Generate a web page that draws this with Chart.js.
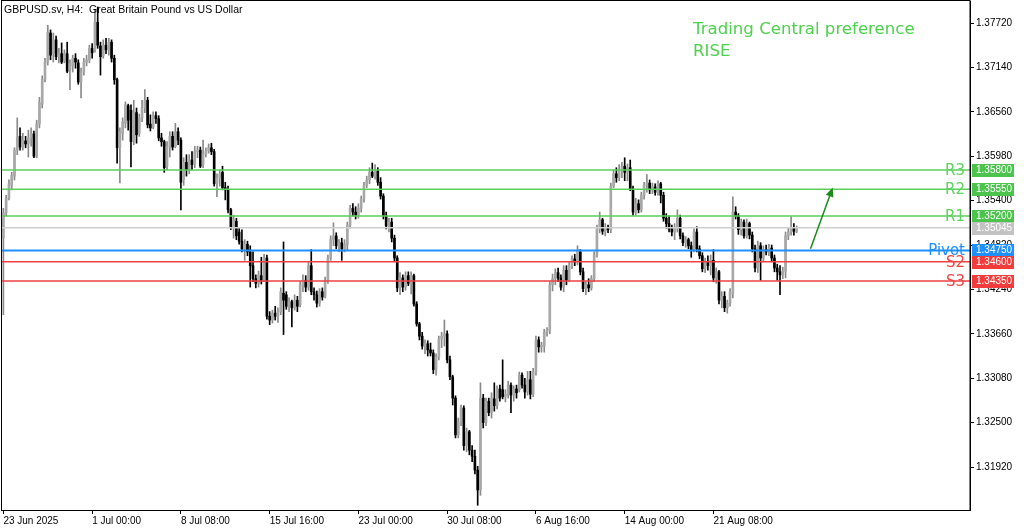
<!DOCTYPE html>
<html><head><meta charset="utf-8">
<script src="https://cdn.jsdelivr.net/npm/chart.js@4/dist/chart.umd.min.js"></script>
<style>html,body{margin:0;padding:0;background:#fff}#wrap{position:relative;width:1024px;height:531px}</style>
</head><body><div id="wrap"><canvas id="c"></canvas></div>
<script>
// GBPUSD H4 candles
const open = [
1.3491,1.3524,1.3543,1.3560,1.3572,1.3606,1.3624,1.3610,1.3618,1.3614,
1.3622,1.3627,1.3598,1.3640,1.3666,1.3698,1.3721,1.3759,1.3732,1.3750,
1.3728,1.3732,1.3722,1.3732,1.3711,1.3716,1.3726,1.3720,1.3695,1.3708,
1.3721,1.3724,1.3739,1.3737,1.3773,1.3742,1.3729,1.3743,1.3737,1.3747,
1.3726,1.3698,1.3609,1.3628,1.3641,1.3664,1.3658,1.3618,1.3655,1.3628,
1.3648,1.3661,1.3671,1.3640,1.3636,1.3651,1.3647,1.3622,1.3617,1.3585,
1.3610,1.3624,1.3611,1.3630,1.3619,1.3567,1.3590,1.3580,1.3593,1.3588,
1.3604,1.3606,1.3587,1.3601,1.3605,1.3609,1.3604,1.3562,1.3570,1.3577,
1.3557,1.3554,1.3528,1.3506,1.3513,1.3499,1.3487,1.3477,1.3483,1.3473,
1.3455,1.3438,1.3432,1.3442,1.3436,1.3465,1.3389,1.3384,1.3393,1.3389,
1.3395,1.3419,1.3417,1.3402,1.3408,1.3400,1.3410,1.3404,1.3429,1.3436,
1.3427,1.3455,1.3421,1.3417,1.3406,1.3421,1.3415,1.3436,1.3465,1.3489,
1.3494,1.3481,1.3485,1.3477,1.3482,1.3508,1.3530,1.3525,1.3521,1.3530,
1.3542,1.3560,1.3567,1.3577,1.3572,1.3579,1.3564,1.3546,1.3520,1.3507,
1.3512,1.3491,1.3465,1.3426,1.3439,1.3427,1.3442,1.3432,1.3442,1.3405,
1.3379,1.3363,1.3350,1.3353,1.3345,1.3341,1.3319,1.3336,1.3359,1.3363,
1.3366,1.3332,1.3310,1.3282,1.3234,1.3251,1.3269,1.3220,1.3238,1.3214,
1.3206,1.3188,1.3162,1.3282,1.3250,1.3278,1.3263,1.3281,1.3272,1.3294,
1.3293,1.3284,1.3286,1.3299,1.3286,1.3294,1.3293,1.3312,1.3299,1.3290,
1.3306,1.3287,1.3316,1.3358,1.3349,1.3350,1.3368,1.3370,1.3430,1.3438,
1.3446,1.3439,1.3427,1.3449,1.3436,1.3455,1.3464,1.3460,1.3473,1.3447,
1.3425,1.3430,1.3426,1.3438,1.3469,1.3503,1.3515,1.3500,1.3504,1.3502,
1.3559,1.3575,1.3570,1.3579,1.3585,1.3577,1.3583,1.3555,1.3525,1.3536,
1.3528,1.3547,1.3560,1.3563,1.3554,1.3558,1.3551,1.3562,1.3547,1.3517,
1.3510,1.3503,1.3499,1.3504,1.3517,1.3494,1.3485,1.3489,1.3481,1.3476,
1.3499,1.3477,1.3468,1.3451,1.3460,1.3455,1.3462,1.3439,1.3447,1.3410,
1.3415,1.3400,1.3406,1.3418,1.3525,1.3520,1.3502,1.3512,1.3494,1.3510,
1.3495,1.3477,1.3452,1.3481,1.3465,1.3476,1.3473,1.3478,1.3465,1.3452,
1.3447,1.3443,1.3448,1.3494,1.3499,1.3504,1.3500];
const high = [
1.3530,1.3547,1.3567,1.3577,1.3609,1.3648,1.3635,1.3628,1.3624,1.3632,
1.3635,1.3631,1.3645,1.3675,1.3703,1.3726,1.3769,1.3763,1.3759,1.3755,
1.3739,1.3746,1.3737,1.3747,1.3724,1.3730,1.3732,1.3724,1.3713,1.3726,
1.3730,1.3743,1.3745,1.3789,1.3793,1.3747,1.3750,1.3752,1.3752,1.3750,
1.3730,1.3700,1.3635,1.3648,1.3669,1.3666,1.3665,1.3671,1.3661,1.3653,
1.3671,1.3685,1.3675,1.3652,1.3656,1.3656,1.3651,1.3628,1.3619,1.3617,
1.3630,1.3630,1.3641,1.3635,1.3622,1.3596,1.3600,1.3600,1.3604,1.3611,
1.3611,1.3610,1.3619,1.3609,1.3614,1.3615,1.3607,1.3575,1.3580,1.3585,
1.3564,1.3559,1.3530,1.3521,1.3517,1.3504,1.3502,1.3489,1.3487,1.3481,
1.3473,1.3443,1.3448,1.3466,1.3470,1.3469,1.3395,1.3397,1.3402,1.3400,
1.3426,1.3486,1.3421,1.3413,1.3410,1.3417,1.3415,1.3434,1.3443,1.3442,
1.3460,1.3476,1.3426,1.3422,1.3425,1.3426,1.3440,1.3469,1.3494,1.3511,
1.3498,1.3489,1.3491,1.3489,1.3512,1.3534,1.3536,1.3532,1.3536,1.3546,
1.3564,1.3572,1.3583,1.3589,1.3587,1.3583,1.3570,1.3549,1.3525,1.3517,
1.3517,1.3495,1.3468,1.3446,1.3443,1.3447,1.3447,1.3447,1.3444,1.3408,
1.3381,1.3368,1.3358,1.3357,1.3354,1.3345,1.3340,1.3363,1.3368,1.3384,
1.3370,1.3337,1.3312,1.3285,1.3256,1.3273,1.3272,1.3243,1.3240,1.3220,
1.3214,1.3193,1.3302,1.3287,1.3282,1.3282,1.3289,1.3302,1.3298,1.3299,
1.3332,1.3293,1.3304,1.3302,1.3298,1.3299,1.3316,1.3315,1.3308,1.3317,
1.3317,1.3321,1.3363,1.3362,1.3355,1.3372,1.3374,1.3435,1.3444,1.3451,
1.3452,1.3443,1.3455,1.3455,1.3460,1.3468,1.3470,1.3481,1.3476,1.3452,
1.3434,1.3438,1.3442,1.3473,1.3508,1.3525,1.3517,1.3510,1.3508,1.3563,
1.3580,1.3583,1.3587,1.3590,1.3596,1.3588,1.3593,1.3559,1.3543,1.3541,
1.3551,1.3564,1.3574,1.3567,1.3563,1.3562,1.3566,1.3564,1.3551,1.3523,
1.3520,1.3508,1.3510,1.3528,1.3521,1.3498,1.3493,1.3491,1.3486,1.3503,
1.3506,1.3481,1.3472,1.3465,1.3468,1.3469,1.3476,1.3452,1.3449,1.3421,
1.3421,1.3410,1.3425,1.3545,1.3532,1.3523,1.3516,1.3515,1.3516,1.3512,
1.3499,1.3482,1.3487,1.3485,1.3481,1.3482,1.3483,1.3482,1.3469,1.3457,
1.3455,1.3453,1.3499,1.3504,1.3519,1.3510,1.3507];
const low = [
1.3391,1.3520,1.3541,1.3554,1.3567,1.3600,1.3606,1.3606,1.3609,1.3597,
1.3611,1.3596,1.3596,1.3635,1.3661,1.3695,1.3717,1.3724,1.3721,1.3724,
1.3720,1.3719,1.3720,1.3707,1.3685,1.3708,1.3713,1.3692,1.3674,1.3704,
1.3716,1.3720,1.3726,1.3734,1.3739,1.3704,1.3726,1.3732,1.3730,1.3721,
1.3692,1.3589,1.3563,1.3619,1.3635,1.3632,1.3584,1.3613,1.3615,1.3624,
1.3643,1.3655,1.3635,1.3631,1.3634,1.3641,1.3618,1.3611,1.3577,1.3580,
1.3597,1.3606,1.3609,1.3613,1.3528,1.3560,1.3572,1.3575,1.3580,1.3583,
1.3596,1.3583,1.3583,1.3597,1.3602,1.3600,1.3559,1.3545,1.3559,1.3554,
1.3541,1.3524,1.3502,1.3491,1.3489,1.3483,1.3473,1.3462,1.3468,1.3427,
1.3434,1.3426,1.3427,1.3431,1.3434,1.3385,1.3378,1.3380,1.3384,1.3381,
1.3391,1.3365,1.3398,1.3395,1.3375,1.3397,1.3395,1.3401,1.3421,1.3421,
1.3423,1.3417,1.3410,1.3401,1.3402,1.3410,1.3413,1.3432,1.3462,1.3481,
1.3477,1.3473,1.3462,1.3473,1.3476,1.3504,1.3520,1.3516,1.3517,1.3525,
1.3538,1.3557,1.3562,1.3570,1.3568,1.3560,1.3542,1.3516,1.3503,1.3499,
1.3486,1.3460,1.3421,1.3417,1.3421,1.3423,1.3429,1.3418,1.3402,1.3376,
1.3358,1.3346,1.3340,1.3337,1.3337,1.3314,1.3312,1.3332,1.3348,1.3350,
1.3328,1.3306,1.3273,1.3230,1.3230,1.3246,1.3214,1.3212,1.3208,1.3199,
1.3183,1.3142,1.3155,1.3243,1.3246,1.3259,1.3256,1.3265,1.3268,1.3278,
1.3281,1.3277,1.3282,1.3263,1.3278,1.3282,1.3290,1.3295,1.3282,1.3286,
1.3281,1.3284,1.3312,1.3342,1.3342,1.3342,1.3363,1.3366,1.3422,1.3430,
1.3434,1.3423,1.3421,1.3430,1.3434,1.3451,1.3455,1.3456,1.3443,1.3421,
1.3417,1.3421,1.3423,1.3434,1.3466,1.3498,1.3496,1.3494,1.3498,1.3498,
1.3557,1.3564,1.3566,1.3570,1.3566,1.3566,1.3553,1.3521,1.3521,1.3524,
1.3525,1.3542,1.3551,1.3549,1.3549,1.3547,1.3547,1.3537,1.3513,1.3504,
1.3499,1.3494,1.3489,1.3499,1.3490,1.3481,1.3479,1.3477,1.3466,1.3473,
1.3473,1.3464,1.3447,1.3446,1.3449,1.3443,1.3434,1.3432,1.3405,1.3400,
1.3395,1.3393,1.3402,1.3413,1.3516,1.3496,1.3495,1.3491,1.3491,1.3490,
1.3473,1.3447,1.3446,1.3436,1.3460,1.3469,1.3468,1.3460,1.3447,1.3436,
1.3417,1.3438,1.3439,1.3489,1.3495,1.3495,1.3498];
const close = [
1.3524,1.3543,1.3562,1.3573,1.3606,1.3623,1.3610,1.3619,1.3614,1.3622,
1.3628,1.3598,1.3640,1.3668,1.3698,1.3721,1.3760,1.3730,1.3750,1.3728,
1.3732,1.3721,1.3732,1.3709,1.3719,1.3726,1.3721,1.3695,1.3708,1.3721,
1.3724,1.3739,1.3733,1.3773,1.3743,1.3728,1.3743,1.3737,1.3747,1.3726,
1.3698,1.3609,1.3630,1.3643,1.3665,1.3645,1.3617,1.3655,1.3626,1.3648,
1.3661,1.3671,1.3639,1.3635,1.3652,1.3647,1.3622,1.3617,1.3583,1.3611,
1.3624,1.3610,1.3630,1.3619,1.3564,1.3590,1.3580,1.3593,1.3587,1.3604,
1.3606,1.3585,1.3601,1.3605,1.3609,1.3604,1.3562,1.3570,1.3575,1.3557,
1.3554,1.3528,1.3506,1.3515,1.3494,1.3487,1.3477,1.3483,1.3473,1.3455,
1.3438,1.3432,1.3443,1.3436,1.3465,1.3389,1.3384,1.3393,1.3389,1.3395,
1.3421,1.3410,1.3402,1.3408,1.3400,1.3410,1.3402,1.3430,1.3436,1.3427,
1.3455,1.3421,1.3417,1.3406,1.3421,1.3414,1.3436,1.3465,1.3489,1.3494,
1.3481,1.3485,1.3477,1.3483,1.3508,1.3530,1.3525,1.3521,1.3530,1.3542,
1.3560,1.3567,1.3577,1.3572,1.3579,1.3564,1.3546,1.3520,1.3507,1.3512,
1.3491,1.3465,1.3426,1.3439,1.3427,1.3442,1.3432,1.3442,1.3405,1.3379,
1.3363,1.3350,1.3353,1.3345,1.3341,1.3319,1.3336,1.3359,1.3363,1.3366,
1.3332,1.3310,1.3282,1.3234,1.3251,1.3269,1.3220,1.3238,1.3214,1.3206,
1.3188,1.3162,1.3282,1.3250,1.3278,1.3263,1.3282,1.3272,1.3294,1.3282,
1.3284,1.3287,1.3299,1.3286,1.3294,1.3289,1.3312,1.3299,1.3290,1.3306,
1.3287,1.3316,1.3358,1.3349,1.3351,1.3368,1.3370,1.3430,1.3438,1.3446,
1.3439,1.3427,1.3449,1.3436,1.3455,1.3464,1.3460,1.3474,1.3447,1.3425,
1.3430,1.3426,1.3438,1.3469,1.3503,1.3515,1.3500,1.3504,1.3502,1.3559,
1.3575,1.3570,1.3579,1.3585,1.3577,1.3583,1.3555,1.3525,1.3536,1.3528,
1.3547,1.3560,1.3563,1.3554,1.3558,1.3551,1.3562,1.3547,1.3517,1.3510,
1.3503,1.3499,1.3504,1.3517,1.3494,1.3485,1.3489,1.3481,1.3476,1.3499,
1.3477,1.3468,1.3451,1.3460,1.3455,1.3462,1.3439,1.3447,1.3410,1.3415,
1.3400,1.3406,1.3421,1.3525,1.3520,1.3502,1.3512,1.3494,1.3510,1.3495,
1.3477,1.3452,1.3481,1.3465,1.3476,1.3473,1.3478,1.3465,1.3452,1.3447,
1.3443,1.3448,1.3494,1.3499,1.3504,1.3500,1.3505];

// price-axis ticks and time-axis tick labels
const priceTicks = [1.37720,1.37140,1.36560,1.35980,1.35400,1.34820,1.34240,1.33660,1.33080,1.32500,1.31920];
const tickLabels = ["23 Jun 2025","1 Jul 00:00","8 Jul 08:00","15 Jul 16:00","23 Jul 00:00","30 Jul 08:00","6 Aug 16:00","14 Aug 00:00","21 Aug 08:00"];

// Trading Central levels
const levelNames  = ["R3","R2","R1","","Pivot","S2","S3"];
const levelValues = [1.35800,1.35550,1.35200,1.35045,1.34750,1.34600,1.34350];
const levelKinds  = ["res","res","res","bid","pivot","sup","sup"];

// forecast arrow (bar index, price)
const arrowFrom = [291, 1.3477];
const arrowTo   = [299, 1.3557];

const preferenceText = ["Trading Central preference", "RISE"];
const titleText = "GBPUSD.sv, H4:  Great Britain Pound vs US Dollar";

// ---- category (H4 bar times, including empty right shift) ----
const TOTAL_SLOTS = 349;
const MONTHS = ["Jan","Feb","Mar","Apr","May","Jun","Jul","Aug","Sep","Oct","Nov","Dec"];
const categories = [];
{
  let t = Date.UTC(2025,5,23,16);
  while (categories.length < TOTAL_SLOTS) {
    const d = new Date(t);
    const wd = d.getUTCDay();
    if (wd !== 0 && wd !== 6) {
      const hh = String(d.getUTCHours()).padStart(2,"0");
      categories.push(d.getUTCDate() + " " + MONTHS[d.getUTCMonth()] + " " + hh + ":00");
    }
    t += 4*3600*1000;
  }
}
function tickText(i){
  if (i === 0) return tickLabels[0];
  const c = categories[i];
  return tickLabels.indexOf(c) >= 0 ? c : "";
}

const STY = {
  res:   {line:"#5ad05a", text:"#5fd35f", box:"#4cc34c"},
  bid:   {line:"#cfcfcf", text:"#c0c0c0", box:"#c3c3c3"},
  pivot: {line:"#1e90ff", text:"#1e90ff", box:"#1e90ff"},
  sup:   {line:"#f04040", text:"#f04545", box:"#f23c3c"}
};
const BULL_BODY = "#a8a8a8", BULL_WICK = "#8a8a8a", BEAR = "#000000";

const isBull = open.map((o,i)=>close[i] >= o);
const bodies = open.map((o,i)=>[o, close[i]]);
const wicks = low.map((l,i)=>[l, high[i]]);

const overlay = {
  id: "overlay",
  afterDatasetsDraw(chart){
    const {ctx, chartArea:a, scales:{y}} = chart;
    ctx.save();
    levelValues.forEach((v,i)=>{
      const s = STY[levelKinds[i]];
      const py = y.getPixelForValue(v);
      ctx.strokeStyle = s.line;
      ctx.lineWidth = levelKinds[i]==="pivot" ? 2 : 1.5;
      ctx.beginPath(); ctx.moveTo(a.left, py); ctx.lineTo(a.right, py); ctx.stroke();
    });
    ctx.font = "15px 'DejaVu Sans'";
    ctx.textAlign = "right"; ctx.textBaseline = "middle";
    levelValues.forEach((v,i)=>{
      if (!levelNames[i]) return;
      const py = y.getPixelForValue(v);
      ctx.fillStyle = STY[levelKinds[i]].text;
      ctx.fillText(levelNames[i], a.right - 5, py + 1);
    });
    // arrow
    const xs = chart.scales.x;
    const x1 = xs.getPixelForValue(arrowFrom[0]), y1 = y.getPixelForValue(arrowFrom[1]);
    const x2 = xs.getPixelForValue(arrowTo[0]),   y2 = y.getPixelForValue(arrowTo[1]);
    const ang = Math.atan2(y2-y1, x2-x1);
    ctx.strokeStyle = "#1b8c1b"; ctx.fillStyle = "#1b8c1b"; ctx.lineWidth = 1.5;
    ctx.beginPath(); ctx.moveTo(x1,y1); ctx.lineTo(x2 - 6*Math.cos(ang), y2 - 6*Math.sin(ang)); ctx.stroke();
    ctx.beginPath();
    ctx.moveTo(x2, y2);
    ctx.lineTo(x2 - 9*Math.cos(ang) + 4*Math.sin(ang), y2 - 9*Math.sin(ang) - 4*Math.cos(ang));
    ctx.lineTo(x2 - 9*Math.cos(ang) - 4*Math.sin(ang), y2 - 9*Math.sin(ang) + 4*Math.cos(ang));
    ctx.closePath(); ctx.fill();
    ctx.restore();
  },
  afterDraw(chart){
    const {ctx, chartArea:a, scales:{y}} = chart;
    ctx.save();
    // value boxes on price axis
    ctx.font = "10px 'Liberation Sans'";
    ctx.textAlign = "left"; ctx.textBaseline = "middle";
    levelValues.forEach((v,i)=>{
      const py = Math.round(y.getPixelForValue(v));
      ctx.fillStyle = STY[levelKinds[i]].box;
      ctx.fillRect(a.right + 2, py - 6, 42, 13);
      ctx.fillStyle = "#ffffff";
      ctx.fillText(v.toFixed(5), a.right + 6, py + 0.5);
    });
    // frame
    ctx.strokeStyle = "#000"; ctx.lineWidth = 1;
    ctx.strokeRect(1.5, 0.5, a.right - 1.5, a.bottom);
    // title
    ctx.fillStyle = "#000";
    ctx.font = "10.5px 'Liberation Sans'";
    ctx.textBaseline = "alphabetic";
    ctx.fillText(titleText, 4, 13);
    // preference text
    ctx.fillStyle = "#4cd24c";
    ctx.font = "16.6px 'DejaVu Sans'";
    ctx.fillText(preferenceText[0], 693, 34);
    ctx.fillText(preferenceText[1], 693, 56);
    ctx.restore();
  }
};

new Chart(document.getElementById("c"), {
  type: "bar",
  data: {
    labels: categories,
    datasets: [
      { label:"body", data: bodies, grouped:false, order:0, barThickness:2, minBarLength:1, borderWidth:0,
        backgroundColor: isBull.map(b=>b?BULL_BODY:BEAR) },
      { label:"wick", data: wicks, grouped:false, order:1, barThickness:1, borderWidth:0,
        backgroundColor: isBull.map(b=>b?BULL_WICK:BEAR) }
    ]
  },
  options: {
    responsive:true, maintainAspectRatio:false, animation:false,
    layout:{ padding:{left:2, top:1, right:0, bottom:0} },
    plugins:{ legend:{display:false}, tooltip:{enabled:false} },
    scales:{
      x:{
        type:"category", offset:true,
        grid:{ display:true, drawOnChartArea:false, offset:false, tickLength:4,
               color:(c)=> tickText(c.index) ? "#000" : "rgba(0,0,0,0)" },
        border:{ display:true, color:"#000" },
        ticks:{ autoSkip:false, maxRotation:0, minRotation:0, align:"start", padding:1,
                color:"#000", font:{family:"Liberation Sans", size:10},
                callback:(v,i)=>tickText(i) },
        afterFit:(s)=>{ s.height = 21; s.paddingLeft = 0; s.paddingRight = 0; }
      },
      y:{
        position:"right", min:1.313585, max:1.380077,
        afterBuildTicks:(s)=>{ s.ticks = priceTicks.map(v=>({value:v})); },
        grid:{ drawOnChartArea:false, tickLength:4, color:"#000" },
        border:{ display:true, color:"#000" },
        ticks:{ padding:2, color:"#000", font:{family:"Liberation Sans", size:10},
                callback:(v)=>Number(v).toFixed(5) },
        afterFit:(s)=>{ s.width = 54; s.paddingTop = 0; s.paddingBottom = 0; }
      }
    }
  },
  plugins:[overlay]
});
</script>
</body></html>
